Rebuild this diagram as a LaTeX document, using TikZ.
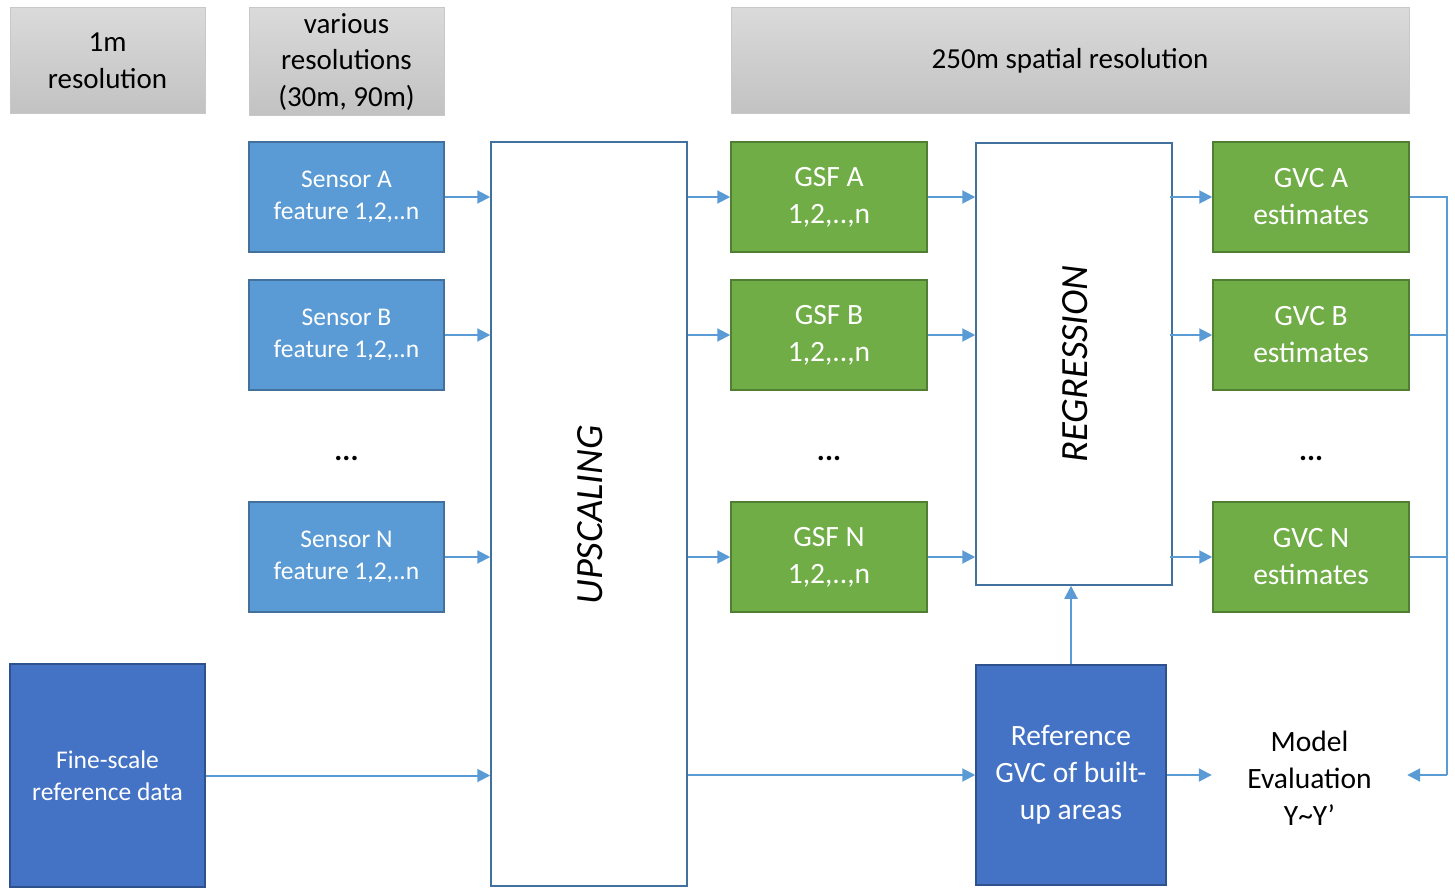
\documentclass[tikz,border=0pt]{standalone}
\usepackage{fontspec}
\setmainfont{Carlito}
\usetikzlibrary{arrows.meta}
\definecolor{hdrtop}{RGB}{218,218,218}
\definecolor{hdrbot}{RGB}{194,194,194}
\definecolor{hdrline}{RGB}{200,200,200}
\definecolor{sensfill}{RGB}{91,155,213}
\definecolor{sensline}{RGB}{65,113,156}
\definecolor{gsffill}{RGB}{112,173,71}
\definecolor{gsfline}{RGB}{80,126,50}
\definecolor{dbfill}{RGB}{68,114,196}
\definecolor{dbline}{RGB}{47,82,143}
\definecolor{arrowc}{RGB}{91,155,213}
\tikzset{
  hdr/.style={draw=hdrline, line width=1pt, top color=hdrtop, bottom color=hdrbot,
    align=center, inner sep=0pt, text=black, font=\fontsize{29}{36.5}\selectfont},
  sensbox/.style={draw=sensline, line width=1.5pt, fill=sensfill, text=white,
    minimum width=195pt, minimum height=110pt, align=center, inner sep=0pt,
    font=\fontsize{25.5}{32}\selectfont},
  gsfbox/.style={draw=gsfline, line width=1.5pt, fill=gsffill, text=white,
    minimum width=196pt, minimum height=110pt, align=center, inner sep=0pt,
    font=\fontsize{29.5}{37}\selectfont},
  dbbox/.style={draw=dbline, line width=1.5pt, fill=dbfill, text=white,
    align=center, inner sep=0pt},
  procbox/.style={draw=sensline, line width=1.5pt, fill=white, inner sep=0pt},
  proclabel/.style={rotate=90, font=\itshape\fontsize{38.5}{42}\selectfont},
  dots/.style={font=\bfseries\fontsize{30}{31}\selectfont},
  flow/.style={draw=arrowc, line width=2pt, -{Triangle[length=13pt,width=13pt]}},
  plain/.style={draw=arrowc, line width=2pt},
}
\begin{document}
\begin{tikzpicture}[x=1pt,y=-1pt]
\useasboundingbox (0,0) rectangle (1455,888);
% headers
\node[hdr, minimum width=195pt, minimum height=106pt] (h1) at (107.5,61) {1m\\resolution};
\node[hdr, minimum width=195pt, minimum height=108pt] (h2) at (346.5,62) {various\\resolutions\\(30m, 90m)};
\node[hdr, minimum width=678pt, minimum height=106pt] (h3) at (1070,61) {250m spatial resolution};
% sensors
\node[sensbox] (sA) at (346.5,197) {Sensor A\\feature 1,2,..n};
\node[sensbox] (sB) at (346.5,335) {Sensor B\\feature 1,2,..n};
\node[dots] (d1) at (346.5,458) {...};
\node[sensbox] (sN) at (346.5,557) {Sensor N\\feature 1,2,..n};
% upscaling
\node[procbox, minimum width=196pt, minimum height=744pt] (up) at (589,514) {};
\node[proclabel] (upl) at (590,515) {UPSCALING};
% GSF
\node[gsfbox] (fA) at (829,197) {GSF A\\1,2,..,n};
\node[gsfbox] (fB) at (829,335) {GSF B\\1,2,..,n};
\node[dots] (d2) at (829,458) {...};
\node[gsfbox] (fN) at (829,557) {GSF N\\1,2,..,n};
% regression
\node[procbox, minimum width=196pt, minimum height=442pt] (reg) at (1074,364) {};
\node[proclabel] (regl) at (1075,364) {REGRESSION};
% GVC
\node[gsfbox] (gA) at (1311,197) {GVC A\\estimates};
\node[gsfbox] (gB) at (1311,335) {GVC B\\estimates};
\node[dots] (d3) at (1311,458) {...};
\node[gsfbox] (gN) at (1311,557) {GVC N\\estimates};
% reference boxes
\node[dbbox, minimum width=195pt, minimum height=223pt, font=\fontsize{25.5}{31.5}\selectfont] (fs) at (107.5,775.5) {Fine-scale\\reference data};
\node[dbbox, minimum width=190pt, minimum height=220pt, font=\fontsize{29.5}{37}\selectfont] (rf) at (1071,775) {Reference\\GVC of built-\\up areas};
\node[align=center, minimum width=195pt, inner sep=0pt, font=\fontsize{29.5}{37}\selectfont] (me) at (1309.5,778) {Model\\Evaluation\\Y\textasciitilde Y’};
% arrows sensors -> upscaling
\draw[flow] (sA.east) -- (sA.east -| up.west);
\draw[flow] (sB.east) -- (sB.east -| up.west);
\draw[flow] (sN.east) -- (sN.east -| up.west);
\draw[flow] (fs.east) -- (fs.east -| up.west);
% upscaling -> GSF
\draw[flow] (up.east |- fA.west) -- (fA.west);
\draw[flow] (up.east |- fB.west) -- (fB.west);
\draw[flow] (up.east |- fN.west) -- (fN.west);
\draw[flow] (up.east |- rf.west) -- (rf.west);
% GSF -> regression
\draw[flow] (fA.east) -- (fA.east -| reg.west);
\draw[flow] (fB.east) -- (fB.east -| reg.west);
\draw[flow] (fN.east) -- (fN.east -| reg.west);
% regression -> GVC
\draw[flow] ([xshift=-3pt]reg.east |- gA.west) -- (gA.west);
\draw[flow] ([xshift=-3pt]reg.east |- gB.west) -- (gB.west);
\draw[flow] ([xshift=-3pt]reg.east |- gN.west) -- (gN.west);
% reference -> regression, evaluation
\draw[flow] (rf.north) -- (rf.north |- reg.south);
\draw[flow] (rf.east) -- (rf.east -| me.west);
% loop to model evaluation
\coordinate (loop) at (1447,775);
\draw[plain] (gA.east) -| (loop);
\draw[plain] (gB.east) -- (gB.east -| loop);
\draw[plain] (gN.east) -- (gN.east -| loop);
\draw[flow] (loop) -- (loop -| me.east);
\end{tikzpicture}
\end{document}
